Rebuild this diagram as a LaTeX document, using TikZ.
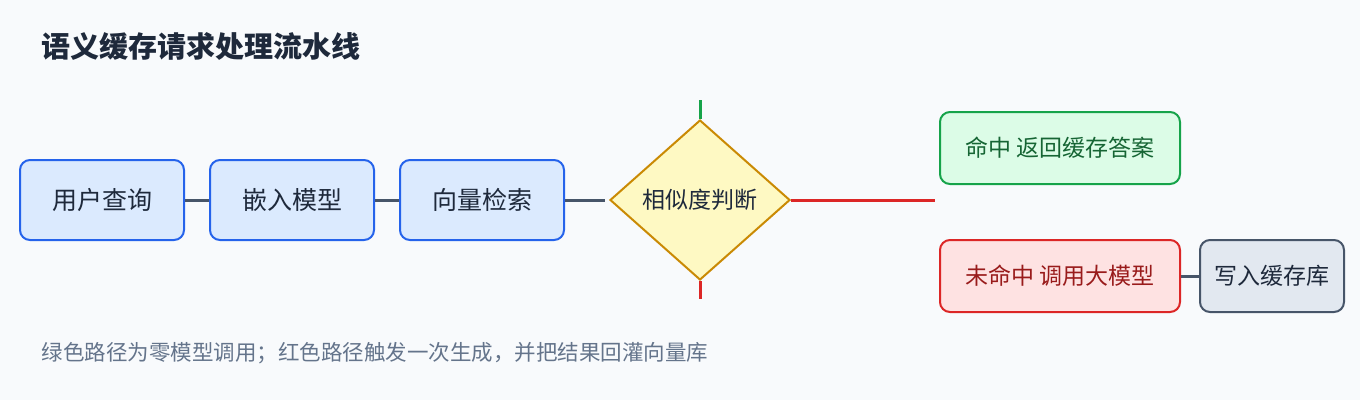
\documentclass[tikz,border=0pt]{standalone}
\usepackage{fontspec}
\setmainfont{Noto Sans CJK SC}
\usetikzlibrary{shapes.geometric}
\definecolor{bg}{HTML}{F8FAFC}
\definecolor{bf}{HTML}{DBEAFE}\definecolor{bs}{HTML}{2563EB}
\definecolor{gf}{HTML}{DCFCE7}\definecolor{gs}{HTML}{16A34A}\definecolor{gt}{HTML}{166534}
\definecolor{rf}{HTML}{FEE2E2}\definecolor{rs}{HTML}{DC2626}\definecolor{rt}{HTML}{991B1B}
\definecolor{sf}{HTML}{E2E8F0}\definecolor{ss}{HTML}{475569}
\definecolor{yf}{HTML}{FEF9C3}\definecolor{ys}{HTML}{CA8A04}
\definecolor{tx}{HTML}{1E293B}\definecolor{cap}{HTML}{64748B}
\begin{document}
\begin{tikzpicture}[x=1pt,y=-1pt,
 box/.style={draw=bs,fill=bf,line width=2pt,rounded corners=10pt,minimum width=164pt,minimum height=80pt,inner sep=0pt,font=\fontsize{25}{30}\selectfont,text=tx},
 gbox/.style={box,draw=gs,fill=gf,text=gt,minimum width=240pt,minimum height=72pt,font=\fontsize{23}{28}\selectfont},
 rbox/.style={gbox,draw=rs,fill=rf,text=rt},
 sbox/.style={gbox,draw=ss,fill=sf,text=tx,minimum width=144pt},
 con/.style={line width=3pt,draw=ss},
 redl/.style={line width=3pt,draw=rs},
 greenl/.style={line width=3pt,draw=gs}]
\fill[bg] (0,0) rectangle (1360,400);
\useasboundingbox (0,0) rectangle (1360,400);
\node[anchor=west,font=\bfseries\fontsize{29}{34}\selectfont,text=tx] (title) at (38,46) {语义缓存请求处理流水线};
\node[box] (q) at (102,200) {用户查询};
\node[box] (e) at (292,200) {嵌入模型};
\node[box] (v) at (482,200) {向量检索};
\node[shape=diamond,draw=ys,fill=yf,line width=2pt,minimum width=180pt,minimum height=160pt,inner sep=0pt,font=\fontsize{23}{28}\selectfont,text=tx] (d) at (700,200) {相似度判断};
\node[gbox] (hit) at (1060,148) {命中 返回缓存答案};
\node[rbox] (miss) at (1060,276) {未命中 调用大模型};
\node[sbox] (w) at (1272,276) {写入缓存库};
\coordinate (dl) at (605,200);
\coordinate (dt) at (700,100);
\coordinate (db) at (700,299);
\coordinate (dr) at (935,200);
\draw[con] (q) -- (e);
\draw[con] (e) -- (v);
\draw[con] (v) -- (dl);
\draw[greenl] (d.north) -- (dt);
\draw[redl] (d.south) -- (db);
\draw[redl] (d.east) -- (dr);
\draw[con] (miss) -- (w);
\node[anchor=west,font=\fontsize{21.5}{26}\selectfont,text=cap] (c) at (38,353) {绿色路径为零模型调用；红色路径触发一次生成，并把结果回灌向量库};
\end{tikzpicture}
\end{document}
